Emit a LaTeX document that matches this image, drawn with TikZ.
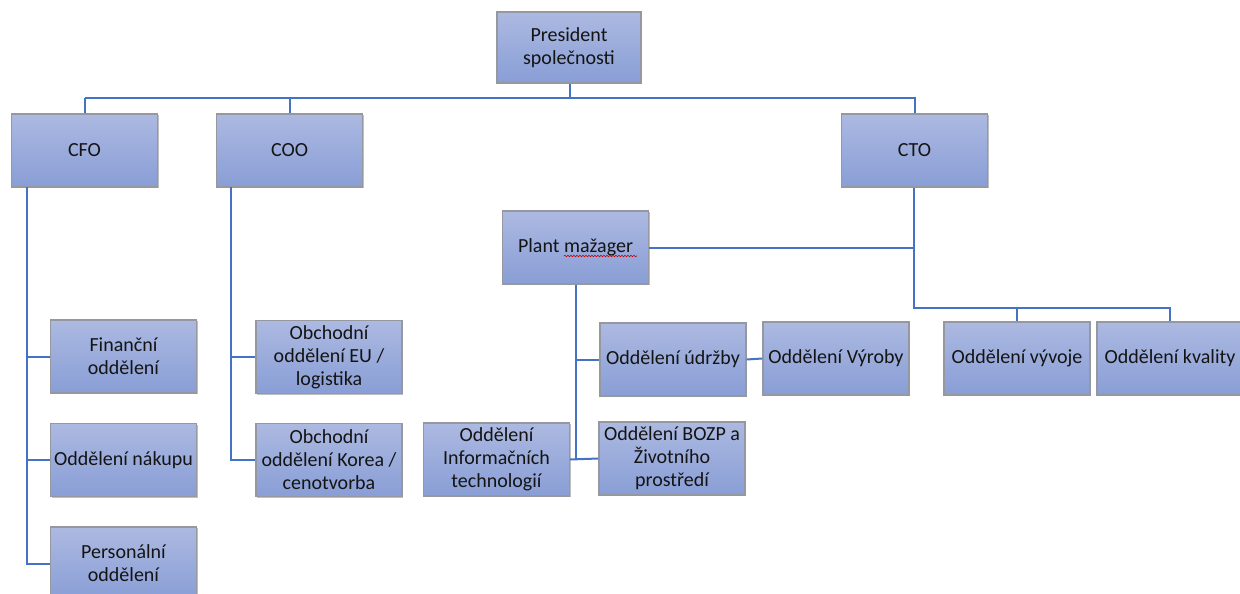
\documentclass[tikz,border=0pt]{standalone}
\usepackage{fontspec}
\setmainfont{Carlito}
\usetikzlibrary{shadows,decorations.pathmorphing}
\definecolor{boxtop}{RGB}{172,185,225}
\definecolor{boxbot}{RGB}{137,158,214}
\definecolor{boxline}{RGB}{150,152,160}
\definecolor{conn}{RGB}{68,114,196}
\definecolor{txt}{RGB}{20,20,20}
\tikzset{
  orgbox/.style={rectangle, draw=boxline, line width=1.2pt, top color=boxtop, bottom color=boxbot,
    minimum width=146pt, minimum height=73pt, inner sep=2pt, align=center, text=txt,
    font=\fontsize{20}{23}\selectfont,
    drop shadow={shadow xshift=1.2pt, shadow yshift=-1.2pt, opacity=0.25, fill=black}},
  link/.style={draw=conn, line width=2pt},
  squiggle/.style={draw=red!80!black, line width=0.6pt, decorate, decoration={snake, amplitude=0.8pt, segment length=3pt}}
}
\begin{document}
\begin{tikzpicture}[x=1pt,y=-1pt]
\useasboundingbox (0,0) rectangle (1240,594);
\clip (0,0) rectangle (1240,594);
\fill[white] (0,0) rectangle (1240,594);
% nodes
\node[orgbox, minimum width=144pt, minimum height=71pt] (pres) at (569,47.5) {President\\společnosti};
\node[orgbox] (cfo) at (84.5,150.5) {CFO};
\node[orgbox] (coo) at (289.5,150.5) {COO};
\node[orgbox] (cto) at (914.5,150.5) {CTO};
\node[orgbox] (fin) at (123.5,356.5) {Finanční\\oddělení};
\node[orgbox] (nak) at (123.5,460) {Oddělení nákupu};
\node[orgbox] (pers) at (123.5,563.5) {Personální\\oddělení};
\node[orgbox] (eu) at (329,357) {Obchodní\\oddělení EU /\\logistika};
\node[orgbox] (kor) at (329,460) {Obchodní\\oddělení Korea /\\cenotvorba};
\node[orgbox] (plant) at (575.5,247.5) {Plant mažager};
\node[orgbox] (udr) at (673,359.5) {Oddělení údržby};
\node[orgbox] (info) at (496.5,459.5) {Oddělení\\Informačních\\technologií};
\node[orgbox] (bozp) at (672,458.5) {Oddělení BOZP a\\Životního\\prostředí};
\node[orgbox] (vyr) at (836,358.5) {Oddělení Výroby};
\node[orgbox] (vyv) at (1017,358.5) {Oddělení vývoje};
\node[orgbox] (kva) at (1170,358.5) {Oddělení kvality};
% spell-check underline
\draw[squiggle] (564,256) -- (637,256);
% coordinates
\coordinate (bus) at (570,98);
\coordinate (cfoT) at (27,187);
\coordinate (cooT) at (231,187);
\coordinate (ctoBus) at (914,308);
% connectors
\draw[link] (pres.south -| bus) -- (bus);
\draw[link] (bus -| cfo.north) -- (cfo.north);
\draw[link] (bus -| cfo.north) -- (bus -| cto.north) -- (cto.north);
\draw[link] (coo.north) -- (coo.north |- bus);
\draw[link] (cfoT) |- (pers.west);
\draw[link] (cfoT |- fin.west) -- (fin.west);
\draw[link] (cfoT |- nak.west) -- (nak.west);
\draw[link] (cooT) |- (kor.west);
\draw[link] (cooT |- eu.west) -- (eu.west);
\draw[link] (cto.south -| ctoBus) -- (ctoBus) -| (kva.north);
\draw[link] (vyv.north) -- (vyv.north |- ctoBus);
\draw[link] (plant.east) -- (plant.east -| ctoBus);
\draw[link] (plant.south) |- (udr.west);
\draw[link] (plant.south) -- (plant.south |- bozp.west);
\draw[link] (info.east) -- (bozp.west);
\draw[link] (udr.east) -- (vyr.west);
\end{tikzpicture}
\end{document}
